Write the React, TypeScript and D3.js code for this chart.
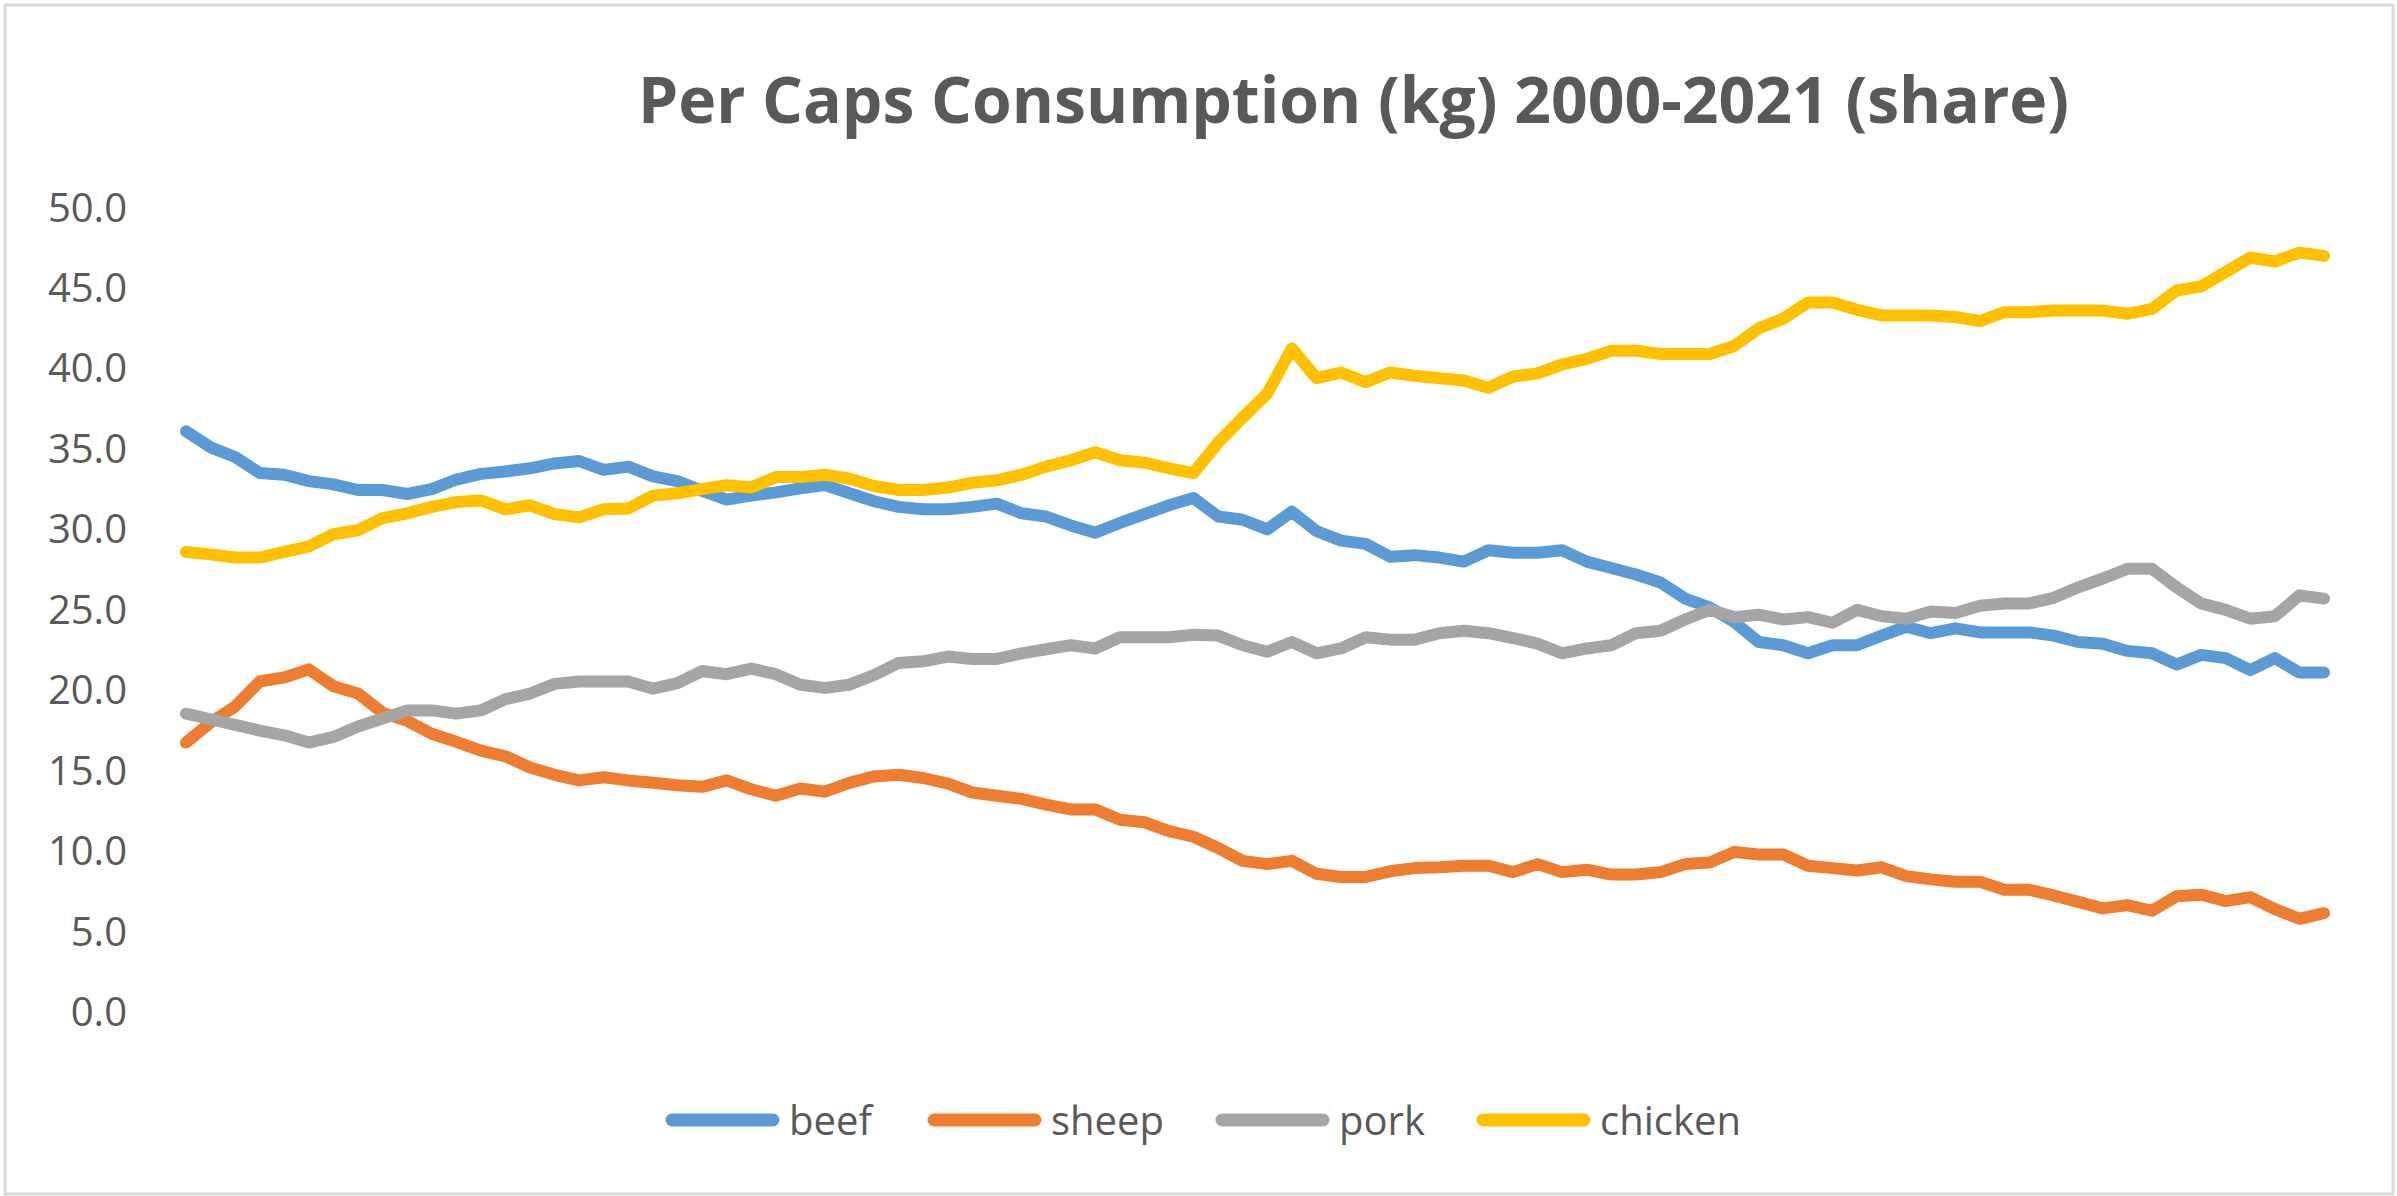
import React from "react";
import * as d3 from "d3";

const years = d3.range(2000, 2022);
const quarters = ["Q1", "Q2", "Q3", "Q4"];
const categories = years.flatMap((y) => quarters.map((q) => `${y} ${q}`));

const beef = [
  36.0, 35.0, 34.4, 33.4, 33.3, 32.9, 32.7, 32.35, 32.35, 32.1,
  32.4, 33.0, 33.35, 33.5, 33.7, 34.0, 34.15, 33.6, 33.8, 33.2,
  32.9, 32.3, 31.75, 32.0, 32.2, 32.45, 32.65, 32.15, 31.65, 31.3,
  31.15, 31.15, 31.3, 31.5, 30.9, 30.7, 30.15, 29.7, 30.3, 30.85,
  31.4, 31.85, 30.7, 30.5, 29.9, 31.0, 29.8, 29.2, 29.0, 28.2,
  28.3, 28.15, 27.9, 28.6, 28.45, 28.45, 28.6, 27.9, 27.5, 27.1,
  26.6, 25.6, 25.05, 24.15, 22.9, 22.7, 22.2, 22.7, 22.7, 23.3,
  23.85, 23.45, 23.75, 23.5, 23.5, 23.5, 23.3, 22.9, 22.8, 22.35,
  22.2, 21.5, 22.1, 21.9, 21.15, 21.9, 21.0, 21.0,
];
const sheep = [
  16.65, 17.9, 18.9, 20.45, 20.7, 21.2, 20.15, 19.7, 18.5, 18.0,
  17.2, 16.7, 16.15, 15.8, 15.1, 14.65, 14.3, 14.5, 14.3, 14.15,
  14.0, 13.9, 14.3, 13.75, 13.35, 13.8, 13.6, 14.15, 14.55, 14.65,
  14.45, 14.1, 13.55, 13.35, 13.15, 12.8, 12.5, 12.5, 11.85, 11.7,
  11.15, 10.8, 10.1, 9.3, 9.1, 9.3, 8.5, 8.3, 8.3, 8.65,
  8.85, 8.9, 9.0, 9.0, 8.6, 9.1, 8.6, 8.75, 8.45, 8.45,
  8.6, 9.1, 9.2, 9.85, 9.7, 9.7, 9.0, 8.85, 8.7, 8.9,
  8.35, 8.15, 8.0, 8.0, 7.5, 7.5, 7.15, 6.75, 6.35, 6.55,
  6.2, 7.1, 7.2, 6.8, 7.05, 6.3, 5.7, 6.05,
];
const pork = [
  18.45, 18.1, 17.75, 17.4, 17.1, 16.65, 17.0, 17.65, 18.15, 18.65,
  18.65, 18.45, 18.65, 19.35, 19.7, 20.3, 20.45, 20.45, 20.45, 20.0,
  20.35, 21.1, 20.9, 21.25, 20.9, 20.25, 20.05, 20.25, 20.85, 21.6,
  21.7, 22.0, 21.85, 21.85, 22.2, 22.45, 22.7, 22.5, 23.2, 23.2,
  23.2, 23.35, 23.3, 22.7, 22.3, 22.9, 22.2, 22.5, 23.2, 23.05,
  23.05, 23.45, 23.6, 23.45, 23.15, 22.8, 22.2, 22.5, 22.7, 23.45,
  23.6, 24.3, 24.9, 24.45, 24.6, 24.3, 24.45, 24.1, 24.9, 24.5,
  24.35, 24.8, 24.7, 25.15, 25.3, 25.3, 25.65, 26.3, 26.85, 27.45,
  27.45, 26.3, 25.3, 24.9, 24.35, 24.5, 25.8, 25.6,
];
const chicken = [
  28.5, 28.35, 28.15, 28.15, 28.5, 28.85, 29.6, 29.85, 30.6, 30.9,
  31.3, 31.6, 31.7, 31.15, 31.4, 30.85, 30.65, 31.15, 31.2, 32.0,
  32.15, 32.4, 32.65, 32.5, 33.15, 33.15, 33.3, 33.05, 32.6, 32.35,
  32.35, 32.5, 32.8, 32.95, 33.3, 33.8, 34.2, 34.7, 34.2, 34.05,
  33.7, 33.4, 35.3, 36.85, 38.35, 41.15, 39.3, 39.65, 39.05, 39.65,
  39.45, 39.3, 39.15, 38.7, 39.4, 39.6, 40.15, 40.5, 41.0, 41.0,
  40.8, 40.8, 40.8, 41.3, 42.4, 43.0, 44.0, 44.0, 43.55, 43.2,
  43.2, 43.2, 43.1, 42.85, 43.4, 43.4, 43.5, 43.5, 43.5, 43.3,
  43.6, 44.75, 45.0, 45.9, 46.8, 46.55, 47.1, 46.9,
];

const seriesNames = ["beef", "sheep", "pork", "chicken"];
const seriesValues = [beef, sheep, pork, chicken];
const seriesColors = ["#5B9BD5", "#ED7D31", "#A5A5A5", "#FFC000"];
const yTicks = [0, 5, 10, 15, 20, 25, 30, 35, 40, 45, 50];
const title = "Per Caps Consumption (kg) 2000-2021 (share)";

// layout
const W = 2397;
const H = 1196;
const legendStarts = [665, 927, 1215, 1476];
const FONT = "'Open Sans', 'Noto Sans', sans-serif";
const TEXT = "#595959";

export default function App() {
  const x = d3.scalePoint<string>().domain(categories).range([186, 2324]);
  const y = d3.scaleLinear().domain([0, 50]).range([1010.5, 206]);
  const line = d3
    .line<number>()
    .x((_, i) => x(categories[i]) as number)
    .y((d) => y(d));
  const fmt = d3.format(".1f");

  return (
    <svg
      width={W}
      height={H}
      style={{ position: "absolute", left: 0, top: 0, background: "#fff" }}
    >
      <rect x={0} y={0} width={W} height={H} fill="#fff" />
      <rect
        x={5}
        y={5}
        width={2388}
        height={1189}
        fill="#fff"
        stroke="#d9d9d9"
        strokeWidth={3}
      />
      <text
        x={638}
        y={123}
        fontFamily={FONT}
        fontWeight={700}
        fontSize={64}
        fill={TEXT}
        textLength={1431}
        lengthAdjust="spacingAndGlyphs"
      >
        {title}
      </text>
      {yTicks.map((t) => (
        <text
          key={t}
          x={127}
          y={y(t)}
          textAnchor="end"
          dominantBaseline="central"
          fontFamily={FONT}
          fontSize={40}
          fill={TEXT}
        >
          {fmt(t)}
        </text>
      ))}
      {seriesValues.map((vals, k) => (
        <path
          key={seriesNames[k]}
          d={line(vals) || ""}
          fill="none"
          stroke={seriesColors[k]}
          strokeWidth={12}
          strokeLinejoin="round"
          strokeLinecap="round"
        />
      ))}
      {seriesNames.map((name, k) => (
        <g key={name}>
          <line
            x1={legendStarts[k] + 7}
            x2={legendStarts[k] + 108}
            y1={1120}
            y2={1120}
            stroke={seriesColors[k]}
            strokeWidth={13}
            strokeLinecap="round"
          />
          <text
            x={legendStarts[k] + 124}
            y={1135}
            fontFamily={FONT}
            fontSize={40}
            fill={TEXT}
          >
            {name}
          </text>
        </g>
      ))}
    </svg>
  );
}
